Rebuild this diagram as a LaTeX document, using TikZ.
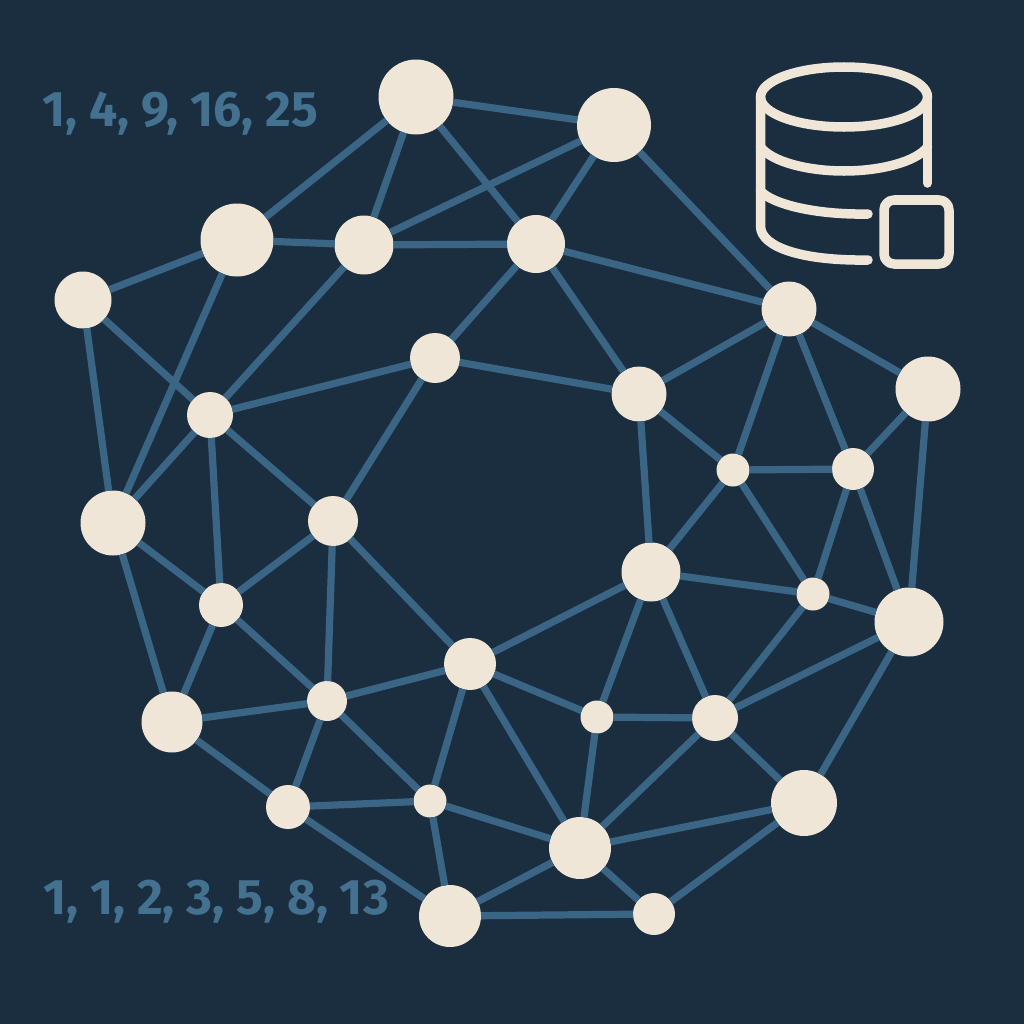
\documentclass[tikz,border=0pt]{standalone}
\usepackage{fontspec}
\usepackage{xcolor}
\setmainfont{Fira Sans}
\definecolor{bgnavy}{HTML}{1A2E40}
\definecolor{linkblue}{HTML}{3B6584}
\definecolor{textblue}{HTML}{44718F}
\definecolor{cream}{HTML}{EFE6D8}

\begin{document}
\begin{tikzpicture}[x=0.01cm, y=-0.01cm]
  \tikzstyle{peer}=[circle, fill=cream, inner sep=0pt, outer sep=0pt, minimum size=#1*0.01cm]
  \tikzstyle{link}=[draw=linkblue, line width=0.072cm]
  \tikzstyle{icon}=[draw=cream, line width=0.095cm, line cap=round, line join=round]
  \tikzstyle{series}=[text=textblue, inner sep=0pt, font=\fontsize{14.2pt}{16pt}\selectfont\bfseries]

  \fill[bgnavy] (0,0) rectangle (1024,1024);
  \useasboundingbox (0,0) rectangle (1024,1024);

  \node[peer=75] (a1) at (416,97) {};
  \node[peer=74] (a2) at (614,125) {};
  \node[peer=73] (b1) at (237,240) {};
  \node[peer=59] (b2) at (364,245) {};
  \node[peer=58] (b3) at (536,244) {};
  \node[peer=57] (c1) at (83,300) {};
  \node[peer=55] (c2) at (789,309) {};
  \node[peer=50] (d1) at (435,358) {};
  \node[peer=55] (d2) at (639,394) {};
  \node[peer=65] (d3) at (928,389) {};
  \node[peer=46] (e1) at (210,415) {};
  \node[peer=33] (f1) at (733,470) {};
  \node[peer=42] (f2) at (853,469) {};
  \node[peer=65] (g1) at (113,523) {};
  \node[peer=50] (g2) at (333,521) {};
  \node[peer=59] (h1) at (651,572) {};
  \node[peer=33] (h2) at (813,594) {};
  \node[peer=69] (h3) at (909,622) {};
  \node[peer=44] (i1) at (221,605) {};
  \node[peer=52] (j1) at (470,664) {};
  \node[peer=61] (k1) at (172,722) {};
  \node[peer=40] (k2) at (327,701) {};
  \node[peer=33] (k3) at (597,717) {};
  \node[peer=46] (k4) at (715,718) {};
  \node[peer=44] (l1) at (288,807) {};
  \node[peer=33] (l2) at (430,801) {};
  \node[peer=66] (l3) at (804,803) {};
  \node[peer=62] (m1) at (580,848) {};
  \node[peer=62] (n1) at (450,916) {};
  \node[peer=42] (n2) at (654,914) {};

  \draw[link] (a1) -- (a2);
  \draw[link] (a1) -- (b1);
  \draw[link] (a1) -- (b2);
  \draw[link] (a1) -- (b3);
  \draw[link] (a2) -- (b2);
  \draw[link] (a2) -- (b3);
  \draw[link] (a2) -- (c2);
  \draw[link] (b1) -- (b2);
  \draw[link] (b1) -- (c1);
  \draw[link] (b1) -- (g1);
  \draw[link] (b2) -- (b3);
  \draw[link] (b2) -- (e1);
  \draw[link] (b3) -- (c2);
  \draw[link] (b3) -- (d1);
  \draw[link] (b3) -- (d2);
  \draw[link] (c1) -- (e1);
  \draw[link] (c1) -- (g1);
  \draw[link] (c2) -- (d2);
  \draw[link] (c2) -- (d3);
  \draw[link] (c2) -- (f1);
  \draw[link] (c2) -- (f2);
  \draw[link] (d1) -- (e1);
  \draw[link] (d1) -- (g2);
  \draw[link] (d1) -- (d2);
  \draw[link] (d2) -- (f1);
  \draw[link] (d2) -- (h1);
  \draw[link] (d3) -- (f2);
  \draw[link] (d3) -- (h3);
  \draw[link] (e1) -- (g1);
  \draw[link] (e1) -- (g2);
  \draw[link] (e1) -- (i1);
  \draw[link] (f1) -- (f2);
  \draw[link] (f1) -- (h1);
  \draw[link] (f1) -- (h2);
  \draw[link] (f2) -- (h2);
  \draw[link] (f2) -- (h3);
  \draw[link] (g1) -- (i1);
  \draw[link] (g1) -- (k1);
  \draw[link] (g2) -- (i1);
  \draw[link] (g2) -- (k2);
  \draw[link] (g2) -- (j1);
  \draw[link] (h1) -- (h2);
  \draw[link] (h1) -- (j1);
  \draw[link] (h1) -- (k3);
  \draw[link] (h1) -- (k4);
  \draw[link] (h2) -- (h3);
  \draw[link] (h2) -- (k4);
  \draw[link] (h3) -- (k4);
  \draw[link] (h3) -- (l3);
  \draw[link] (i1) -- (k1);
  \draw[link] (i1) -- (k2);
  \draw[link] (j1) -- (k2);
  \draw[link] (j1) -- (k3);
  \draw[link] (j1) -- (l2);
  \draw[link] (j1) -- (m1);
  \draw[link] (k1) -- (k2);
  \draw[link] (k1) -- (l1);
  \draw[link] (k2) -- (l1);
  \draw[link] (k2) -- (l2);
  \draw[link] (k3) -- (k4);
  \draw[link] (k3) -- (m1);
  \draw[link] (k4) -- (m1);
  \draw[link] (k4) -- (l3);
  \draw[link] (l1) -- (l2);
  \draw[link] (l1) -- (n1);
  \draw[link] (l2) -- (m1);
  \draw[link] (l2) -- (n1);
  \draw[link] (l3) -- (m1);
  \draw[link] (l3) -- (n2);
  \draw[link] (m1) -- (n1);
  \draw[link] (m1) -- (n2);
  \draw[link] (n1) -- (n2);

  \node[series] (squares) at (180,114) {1, 4, 9, 16, 25};
  \node[series] (fibs) at (216,902) {1, 1, 2, 3, 5, 8, 13};

  % database icon
  \draw[icon] (844,97) ellipse (83.5 and 30);
  \draw[icon] (760.5,97) -- (760.5,226) .. controls (760.5,248) and (805,261) .. (868,260);
  \draw[icon] (927.5,97) -- (927.5,183);
  \draw[icon] (760.5,147) .. controls (772,162) and (808,171) .. (844,171) .. controls (880,171) and (916,162) .. (927.5,147);
  \draw[icon] (760.5,191) .. controls (772,204) and (815,215) .. (868,214);
  \draw[icon, rounded corners=0.1cm] (884,200) rectangle (949,264);
\end{tikzpicture}
\end{document}
